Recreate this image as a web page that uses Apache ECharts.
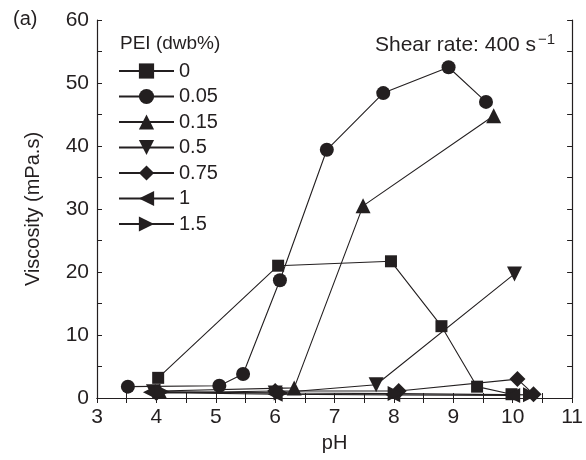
<!DOCTYPE html>
<html><head><meta charset="utf-8">
<script src="https://cdn.jsdelivr.net/npm/echarts@6/dist/echarts.min.js"></script>
<style>html,body{margin:0;padding:0;background:#fff}#c{width:586px;height:460px}</style>
</head><body><div id="c"></div>
<script>
const seriesNames = ['0','0.05','0.15','0.5','0.75','1','1.5'];
const ph_0    = [4.03, 6.05, 7.95, 8.8, 9.4, 9.98];
const visc_0  = [3.2, 21.0, 21.7, 11.4, 1.8, 0.6];
const ph_005  = [3.52, 5.06, 5.46, 6.08, 6.87, 7.82, 8.92, 9.55];
const visc_005= [1.8, 1.95, 3.8, 18.7, 39.4, 48.4, 52.5, 47.0];
const ph_015  = [4.05, 6.32, 7.48, 9.68];
const visc_015= [1.1, 1.6, 30.5, 44.8];
const ph_05   = [3.95, 6.0, 7.7, 10.03];
const visc_05 = [1.0, 0.8, 2.1, 19.7];
const ph_075  = [4.0, 6.0, 8.08, 10.08, 10.35];
const visc_075= [0.8, 1.1, 1.1, 3.0, 0.6];
const ph_1    = [3.9, 6.0, 7.98, 10.0];
const visc_1  = [0.9, 0.6, 0.5, 0.4];
const ph_15   = [4.1, 6.1, 8.02, 10.3];
const visc_15 = [1.0, 0.8, 0.7, 0.5];
const xTicks = [3,4,5,6,7,8,9,10,11];
const yTicks = [0,10,20,30,40,50,60];

const phs = [ph_0, ph_005, ph_015, ph_05, ph_075, ph_1, ph_15];
const viscs = [visc_0, visc_005, visc_015, visc_05, visc_075, visc_1, visc_15];
const symbols = ['rect','circle','triangle','triangle','diamond','triangle','triangle'];
const rotates = [0,0,0,180,0,90,-90];
const sizes = [12,14,15,15,16,15,15];
const ink = '#231f20';
const font = 'Liberation Sans, Arial, sans-serif';

const series = seriesNames.map((n,i)=>({
  name: n, type: 'line',
  data: phs[i].map((x,j)=>[x, viscs[i][j]]),
  symbol: symbols[i], symbolRotate: rotates[i], symbolSize: sizes[i],
  showAllSymbol: true,
  lineStyle: {color: ink, width: 1.1},
  itemStyle: {color: ink, borderWidth: 0},
  emphasis: {disabled: true},
  animation: false
}));

const chart = echarts.init(document.getElementById('c'), null, {renderer:'canvas'});
const axisCommon = {
  axisLine: {show: true, lineStyle: {color: ink, width: 1.2}},
  axisTick: {show: true, inside: true, length: 5, lineStyle: {color: ink}},
  minorTick: {show: true, splitNumber: 2, length: 5, lineStyle: {color: ink}},
  splitLine: {show: false}
};
chart.setOption({
  animation: false,
  backgroundColor: '#fff',
  grid: {left: 97, right: 8, top: 20, bottom: 62},
  xAxis: [
    Object.assign({type:'value', min: xTicks[0], max: xTicks[xTicks.length-1], interval: 1, position:'bottom',
      name: 'pH', nameLocation: 'middle', nameGap: 35,
      nameTextStyle: {fontFamily: font, fontSize: 20, color: ink},
      axisLabel: {fontFamily: font, fontSize: 21, color: ink, margin: 9}}, axisCommon),
    Object.assign({type:'value', min: xTicks[0], max: xTicks[xTicks.length-1], interval: 1, position:'top',
      axisLabel: {show:false}}, axisCommon)
  ],
  yAxis: [
    Object.assign({type:'value', min: yTicks[0], max: yTicks[yTicks.length-1], interval: 10, position:'left',
      name: 'Viscosity (mPa.s)', nameLocation: 'middle', nameGap: 54,
      nameTextStyle: {fontFamily: font, fontSize: 20, color: ink},
      axisLabel: {fontFamily: font, fontSize: 21, color: ink, margin: 8}}, axisCommon),
    Object.assign({type:'value', min: yTicks[0], max: yTicks[yTicks.length-1], interval: 10, position:'right',
      axisLabel: {show:false}}, axisCommon)
  ],
  legend: {
    data: seriesNames, orient: 'vertical', left: 118, top: 61,
    itemWidth: 55, itemHeight: 19, itemGap: 5.5,
    textStyle: {fontFamily: font, fontSize: 20, color: ink, padding: [0,0,0,0]},
    icon: 'inherit', selectedMode: false, padding: 0
  },
  graphic: [
    {type:'text', left: 13, top: 9, style: {text: '(a)', font: '20px ' + font, fill: ink}},
    {type:'text', left: 120, top: 34, style: {text: 'PEI (dwb%)', font: '19px ' + font, fill: ink}},
    {type:'text', left: 375, top: 32, style: {
      text: 'Shear rate: 400 s{sup|\u22121}', font: '21px ' + font, fill: ink,
      rich: {sup: {fontSize: 15, fontFamily: font, verticalAlign: 'top', padding: [0,0,12,2], fill: ink}}
    }}
  ],
  series: series
});
</script></body></html>
